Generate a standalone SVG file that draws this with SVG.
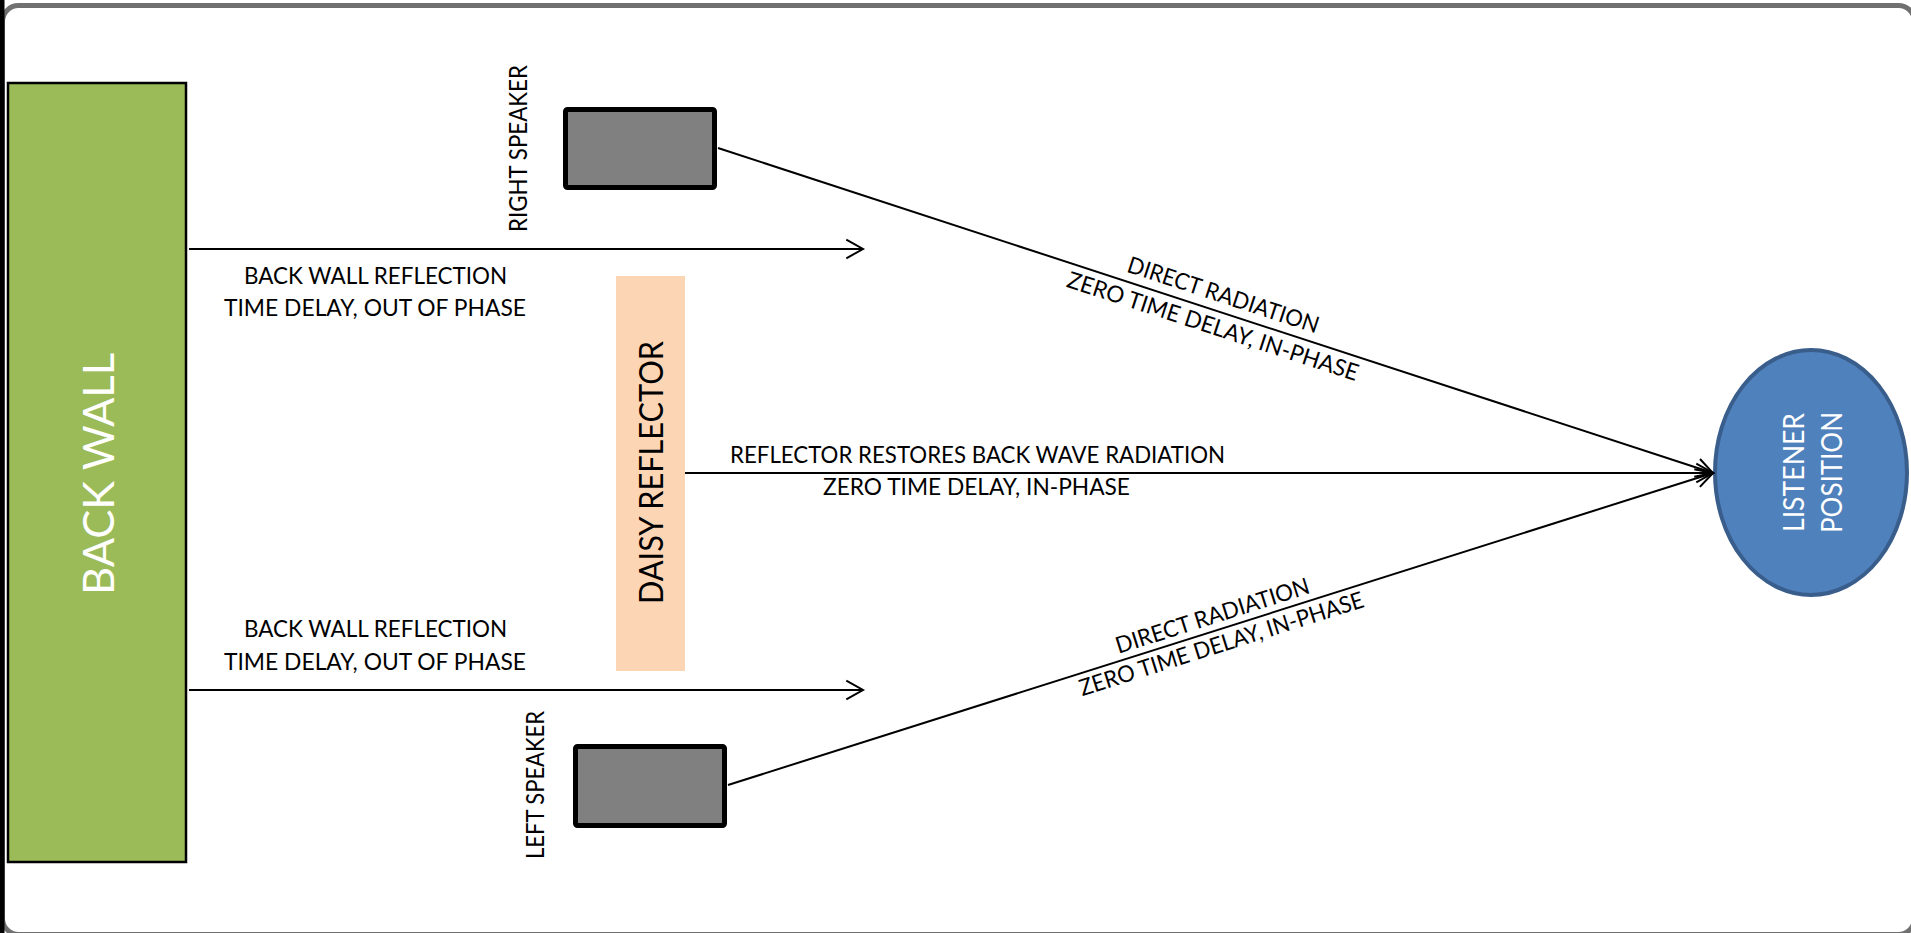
<svg xmlns="http://www.w3.org/2000/svg" width="1911" height="933" viewBox="0 0 1911 933">
<style>
.t{font-family:Lato,"Open Sans","Liberation Sans",sans-serif;font-size:23px;fill:#000}
.w{fill:#fff}
.ln{stroke:#000;stroke-width:2;fill:none}
</style>
<defs>
<marker id="ah" markerUnits="userSpaceOnUse" markerWidth="30" markerHeight="30" viewBox="-20 -15 25 30" refX="0" refY="0" orient="auto">
<path d="M-16.7,-9.3 L0,0 L-16.7,9.3" fill="none" stroke="#000" stroke-width="2"/>
</marker>
</defs>
<rect x="0" y="0" width="1911" height="933" fill="#fff"/>
<rect x="2.5" y="5.5" width="1912" height="929" rx="16" fill="#fff" stroke="#707070" stroke-width="5"/>
<rect x="0" y="0" width="4.5" height="933" fill="#000"/>

<g id="back-wall">
<rect x="8" y="83" width="178" height="779" fill="#9BBB59" stroke="#000" stroke-width="2.5"/>
<text class="t w" transform="translate(113.5,474) rotate(-90)" text-anchor="middle" style="font-size:43px" textLength="242" lengthAdjust="spacingAndGlyphs">BACK WALL</text>
</g>

<g id="right-speaker">
<rect x="565.5" y="109.5" width="149" height="78" rx="2" fill="#808080" stroke="#000" stroke-width="5"/>
<text class="t" transform="translate(527,148.5) rotate(-90)" text-anchor="middle" style="font-size:25px" textLength="167" lengthAdjust="spacingAndGlyphs">RIGHT SPEAKER</text>
</g>

<g id="left-speaker">
<rect x="575.5" y="746.5" width="149" height="79" rx="2" fill="#808080" stroke="#000" stroke-width="5"/>
<text class="t" transform="translate(544,785) rotate(-90)" text-anchor="middle" style="font-size:25px" textLength="148" lengthAdjust="spacingAndGlyphs">LEFT SPEAKER</text>
</g>

<g id="daisy-reflector">
<rect x="616" y="276" width="69" height="395" fill="#FCD5B5"/>
<text class="t" transform="translate(663,472.5) rotate(-90)" text-anchor="middle" style="font-size:33.5px" textLength="263" lengthAdjust="spacingAndGlyphs">DAISY REFLECTOR</text>
</g>

<g id="listener">
<ellipse cx="1811" cy="472.5" rx="96" ry="122.5" fill="#4F81BD" stroke="#3A5E8C" stroke-width="4"/>
<text class="t w" transform="translate(1804,472.5) rotate(-90)" text-anchor="middle" style="font-size:28px" textLength="119" lengthAdjust="spacingAndGlyphs">LISTENER</text>
<text class="t w" transform="translate(1842,472.5) rotate(-90)" text-anchor="middle" style="font-size:28px" textLength="121" lengthAdjust="spacingAndGlyphs">POSITION</text>
</g>

<g id="connectors">
<line class="ln" x1="189" y1="249" x2="863" y2="249" marker-end="url(#ah)"/>
<line class="ln" x1="189" y1="690" x2="863" y2="690" marker-end="url(#ah)"/>
<line class="ln" x1="685" y1="473" x2="1713" y2="473" marker-end="url(#ah)"/>
<line class="ln" x1="718" y1="148" x2="1713" y2="473" marker-end="url(#ah)"/>
<line class="ln" x1="728" y1="785" x2="1713" y2="473" marker-end="url(#ah)"/>
</g>

<g id="labels">
<text class="t" x="375.5" y="283.5" text-anchor="middle" textLength="263" lengthAdjust="spacingAndGlyphs">BACK WALL REFLECTION</text>
<text class="t" x="375" y="316" text-anchor="middle" textLength="302" lengthAdjust="spacingAndGlyphs">TIME DELAY, OUT OF PHASE</text>
<text class="t" x="375.5" y="637" text-anchor="middle" textLength="263" lengthAdjust="spacingAndGlyphs">BACK WALL REFLECTION</text>
<text class="t" x="375" y="670" text-anchor="middle" textLength="302" lengthAdjust="spacingAndGlyphs">TIME DELAY, OUT OF PHASE</text>
<text class="t" x="977.5" y="463" text-anchor="middle" textLength="495" lengthAdjust="spacingAndGlyphs">REFLECTOR RESTORES BACK WAVE RADIATION</text>
<text class="t" x="976.5" y="495" text-anchor="middle" textLength="307" lengthAdjust="spacingAndGlyphs">ZERO TIME DELAY, IN-PHASE</text>
<g transform="translate(1218,311) rotate(18.09)">
<text class="t" x="0" y="-9" text-anchor="middle" textLength="200" lengthAdjust="spacingAndGlyphs">DIRECT RADIATION</text>
<text class="t" x="0" y="24" text-anchor="middle" textLength="305" lengthAdjust="spacingAndGlyphs">ZERO TIME DELAY, IN-PHASE</text>
</g>
<g transform="translate(1217,630) rotate(-17.58)">
<text class="t" x="0" y="-7" text-anchor="middle" textLength="202" lengthAdjust="spacingAndGlyphs">DIRECT RADIATION</text>
<text class="t" x="0" y="22.5" text-anchor="middle" textLength="297" lengthAdjust="spacingAndGlyphs">ZERO TIME DELAY, IN-PHASE</text>
</g>
</g>
</svg>
